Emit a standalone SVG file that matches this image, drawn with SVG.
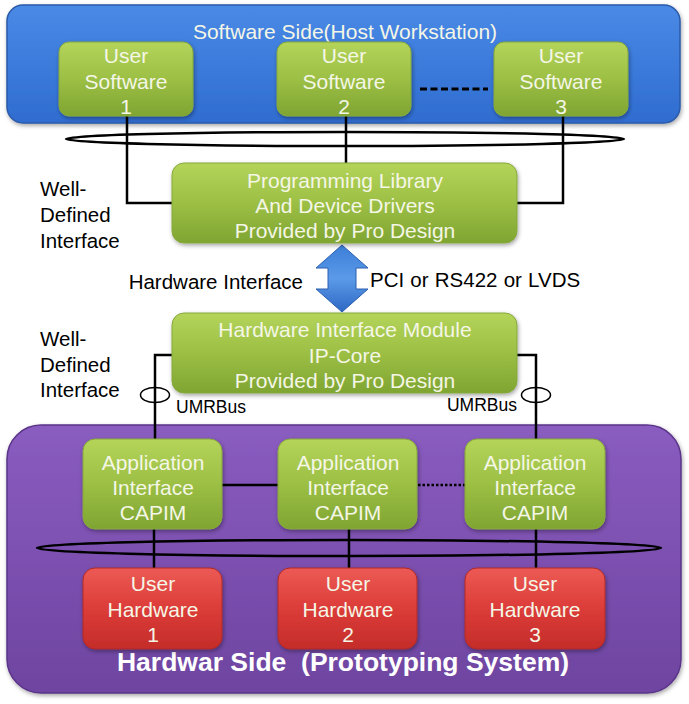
<svg xmlns="http://www.w3.org/2000/svg" width="689" height="704" viewBox="0 0 689 704">
<defs>
<linearGradient id="gBlue" x1="0" y1="0" x2="0" y2="1">
<stop offset="0" stop-color="#4a8ae6"/><stop offset="1" stop-color="#2f6cd0"/>
</linearGradient>
<linearGradient id="gPurple" x1="0" y1="0" x2="0" y2="1">
<stop offset="0" stop-color="#8a5cc0"/><stop offset="1" stop-color="#6e44a0"/>
</linearGradient>
<linearGradient id="gGreen" x1="0" y1="0" x2="0" y2="1">
<stop offset="0" stop-color="#b4d45a"/><stop offset="0.5" stop-color="#9cbf44"/><stop offset="1" stop-color="#7fa532"/>
</linearGradient>
<linearGradient id="gRed" x1="0" y1="0" x2="0" y2="1">
<stop offset="0" stop-color="#ec5a55"/><stop offset="0.5" stop-color="#dc3c38"/><stop offset="1" stop-color="#c42c2a"/>
</linearGradient>
<linearGradient id="gArrow" x1="0" y1="0" x2="0" y2="1">
<stop offset="0" stop-color="#3c7ed8"/><stop offset="0.5" stop-color="#5b9ae8"/><stop offset="1" stop-color="#2d68c4"/>
</linearGradient>
<filter id="sh" x="-10%" y="-10%" width="130%" height="140%">
<feDropShadow dx="1" dy="2" stdDeviation="2" flood-color="#000" flood-opacity="0.35"/>
</filter>
</defs>
<style>
.panelB{fill:url(#gBlue);stroke:#2a5aa8;stroke-width:1.5}
.panelP{fill:url(#gPurple);stroke:#5a3488;stroke-width:1.5}
.green{fill:url(#gGreen);stroke:#86a83c;stroke-width:1}
.red{fill:url(#gRed);stroke:#b02a28;stroke-width:1}
.bt{font-family:"Liberation Sans",Arial,sans-serif;font-size:21px;fill:#f4f6e6;text-anchor:middle;dominant-baseline:central}
.lbl{font-family:"Liberation Sans",Arial,sans-serif;font-size:20.5px;fill:#000;dominant-baseline:central}
.sm{font-family:"Liberation Sans",Arial,sans-serif;font-size:17.5px;fill:#000;dominant-baseline:central}
.ln{fill:none;stroke:#000;stroke-width:2.5}
.ell{fill:none;stroke:#000;stroke-width:2.5}
</style>

<g id="software-side">
<rect class="panelB" x="7" y="5" width="673" height="118" rx="16" filter="url(#sh)"/>
<text class="bt" x="345" y="31">Software Side(Host Workstation)</text>
</g>
<g id="hardware-side">
<rect class="panelP" x="7" y="425" width="674" height="268" rx="34" filter="url(#sh)"/>
<text x="343" y="662" style="font-family:'Liberation Sans',Arial,sans-serif;font-size:26.5px;font-weight:bold;fill:#fff;text-anchor:middle;dominant-baseline:central;white-space:pre">Hardwar Side  (Prototyping System)</text>
</g>

<g id="connectors">
<path class="ln" d="M127,115 V203 H172"/>
<path class="ln" d="M346,115 V164"/>
<path class="ln" d="M563,115 V203 H516"/>
<ellipse class="ell" cx="345" cy="139" rx="279" ry="7"/>
<path class="ln" d="M172,355 H155 V440"/>
<path class="ln" d="M516,355 H536 V440"/>
<ellipse fill="none" stroke="#000" stroke-width="1.5" cx="155" cy="395" rx="14.5" ry="7.5"/>
<ellipse fill="none" stroke="#000" stroke-width="1.5" cx="536" cy="395" rx="14.5" ry="7.5"/>
<path class="ln" d="M222,485 H278"/>
<path d="M418,485 H465" fill="none" stroke="#000" stroke-width="2.5" stroke-dasharray="2.5,2"/>
<path class="ln" d="M154,528 V569"/>
<path class="ln" d="M349,528 V569"/>
<path class="ln" d="M536,528 V569"/>
<ellipse class="ell" cx="349" cy="548" rx="312" ry="8"/>
<path d="M420,89 H488" fill="none" stroke="#000" stroke-width="3" stroke-dasharray="7,3.5"/>
<path id="hw-arrow" d="M342,245 L316,268 L328,268 L328,289 L316,289 L342,312 L368,289 L356,289 L356,268 L368,268 Z" fill="url(#gArrow)" stroke="#2a5fb0" stroke-width="1"/>
</g>

<g id="user-sw-1">
<rect class="green" x="59" y="42" width="134" height="74" rx="10" filter="url(#sh)"/>
<text class="bt" x="126" y="55">User</text><text class="bt" x="126" y="81">Software</text><text class="bt" x="126" y="106">1</text>
</g>
<g id="user-sw-2">
<rect class="green" x="277" y="42" width="134" height="74" rx="10" filter="url(#sh)"/>
<text class="bt" x="344" y="55">User</text><text class="bt" x="344" y="81">Software</text><text class="bt" x="344" y="106">2</text>
</g>
<g id="user-sw-3">
<rect class="green" x="494" y="42" width="134" height="74" rx="10" filter="url(#sh)"/>
<text class="bt" x="561" y="55">User</text><text class="bt" x="561" y="81">Software</text><text class="bt" x="561" y="106">3</text>
</g>

<g id="prog-lib">
<rect class="green" x="172" y="163" width="345" height="80" rx="12" filter="url(#sh)"/>
<text class="bt" x="345" y="180">Programming Library</text>
<text class="bt" x="345" y="205">And Device Drivers</text>
<text class="bt" x="345" y="230">Provided by Pro Design</text>
</g>

<g id="labels">
<text class="lbl" x="40" y="188">Well-</text>
<text class="lbl" x="40" y="214">Defined</text>
<text class="lbl" x="40" y="240">Interface</text>
<text class="lbl" x="303" y="281" text-anchor="end">Hardware Interface</text>
<text class="lbl" x="370" y="279" word-spacing="0.5">PCI or RS422 or LVDS</text>
<text class="lbl" x="40" y="338">Well-</text>
<text class="lbl" x="40" y="364">Defined</text>
<text class="lbl" x="40" y="389">Interface</text>
<text class="sm" x="176" y="407">UMRBus</text>
<text class="sm" x="517" y="405" text-anchor="end">UMRBus</text>
</g>

<g id="hw-if-module">
<rect class="green" x="172" y="313" width="345" height="80" rx="12" filter="url(#sh)"/>
<text class="bt" x="345" y="329">Hardware Interface Module</text>
<text class="bt" x="345" y="355">IP-Core</text>
<text class="bt" x="345" y="380">Provided by Pro Design</text>
</g>

<g id="capim-1">
<rect class="green" x="83" y="439" width="139" height="90" rx="12" filter="url(#sh)"/>
<text class="bt" x="153" y="462">Application</text><text class="bt" x="153" y="487">Interface</text><text class="bt" x="153" y="512">CAPIM</text>
</g>
<g id="capim-2">
<rect class="green" x="278" y="439" width="139" height="90" rx="12" filter="url(#sh)"/>
<text class="bt" x="348" y="462">Application</text><text class="bt" x="348" y="487">Interface</text><text class="bt" x="348" y="512">CAPIM</text>
</g>
<g id="capim-3">
<rect class="green" x="465" y="439" width="140" height="90" rx="12" filter="url(#sh)"/>
<text class="bt" x="535" y="462">Application</text><text class="bt" x="535" y="487">Interface</text><text class="bt" x="535" y="512">CAPIM</text>
</g>

<g id="user-hw-1">
<rect class="red" x="83" y="568" width="139" height="81" rx="12" filter="url(#sh)"/>
<text class="bt" x="153" y="583">User</text><text class="bt" x="153" y="609">Hardware</text><text class="bt" x="153" y="634">1</text>
</g>
<g id="user-hw-2">
<rect class="red" x="278" y="568" width="139" height="81" rx="12" filter="url(#sh)"/>
<text class="bt" x="348" y="583">User</text><text class="bt" x="348" y="609">Hardware</text><text class="bt" x="348" y="634">2</text>
</g>
<g id="user-hw-3">
<rect class="red" x="465" y="568" width="140" height="81" rx="12" filter="url(#sh)"/>
<text class="bt" x="535" y="583">User</text><text class="bt" x="535" y="609">Hardware</text><text class="bt" x="535" y="634">3</text>
</g>
</svg>
